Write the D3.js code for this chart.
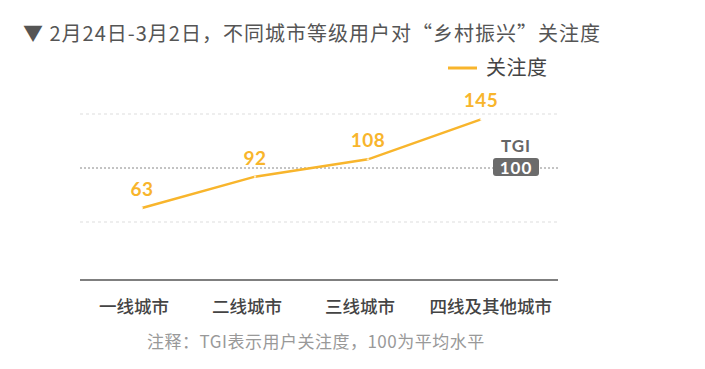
<!DOCTYPE html>
<html><head><meta charset="utf-8">
<script src="https://cdn.jsdelivr.net/npm/d3@7"></script>
<style>
html,body{margin:0;padding:0;background:#fff;}
svg{display:block;font-family:"Noto Sans CJK SC","Noto Sans",sans-serif;}
</style></head>
<body>
<svg id="c" width="705" height="369"></svg>
<script>
const categories = ["一线城市", "二线城市", "三线城市", "四线及其他城市"];
const attention = [63, 92, 108, 145];
const gridValues = [50, 150];
const baseline = 100;
const title = "▼ 2月24日-3月2日，不同城市等级用户对“乡村振兴”关注度";
const seriesName = "关注度";
const note = "注释：TGI表示用户关注度，100为平均水平";

const svg = d3.select("#c");
const orange = "#F8B52C";
const x = d3.scalePoint().domain(categories).range([142, 481]);
const y = d3.scaleLinear().domain([50, 150]).range([222, 114]);
const axisY = 280, left = 80, right = 558;

// title
svg.append("text").attr("x", 23).attr("y", 41)
  .attr("font-size", 20).attr("letter-spacing", 1).attr("fill", "#555").text(title);

// legend
svg.append("line").attr("x1", 448).attr("x2", 477).attr("y1", 68).attr("y2", 68)
  .attr("stroke", orange).attr("stroke-width", 3);
svg.append("text").attr("x", 486).attr("y", 75).attr("font-size", 20).attr("letter-spacing", 0.5)
  .attr("fill", "#444").text(seriesName);

// grid
svg.selectAll(".grid").data(gridValues).enter().append("line")
  .attr("x1", left).attr("x2", right)
  .attr("y1", d => y(d)).attr("y2", d => y(d))
  .attr("stroke", "#ddd").attr("stroke-dasharray", "3,3").attr("stroke-width", 1);

// baseline 100
svg.append("line").attr("x1", left).attr("x2", right)
  .attr("y1", y(baseline)).attr("y2", y(baseline))
  .attr("stroke", "#888").attr("stroke-dasharray", "2,2").attr("stroke-width", 1);

// axis line
svg.append("line").attr("x1", left).attr("x2", right).attr("y1", axisY).attr("y2", axisY)
  .attr("stroke", "#555").attr("stroke-width", 1.5);

// TGI badge
const bx = 516;
svg.append("text").attr("x", bx).attr("y", 152).attr("text-anchor", "middle")
  .attr("font-size", 17).attr("letter-spacing", 1).attr("font-family", "Lato, 'Noto Sans', sans-serif").attr("font-weight", 700)
  .attr("fill", "#666").text("TGI");
svg.append("rect").attr("x", bx - 23).attr("y", y(baseline) - 10).attr("width", 46).attr("height", 18)
  .attr("rx", 3).attr("fill", "#6b6b6b");
svg.append("text").attr("x", bx).attr("y", y(baseline) + 6).attr("text-anchor", "middle")
  .attr("font-size", 17).attr("letter-spacing", 1).attr("font-family", "Lato, 'Noto Sans', sans-serif").attr("font-weight", 700)
  .attr("fill", "#fff").text(String(baseline));

// line
const data = categories.map((c, i) => ({c, v: attention[i]}));
svg.append("path").datum(data)
  .attr("d", d3.line().x(d => x(d.c)).y(d => y(d.v)))
  .attr("fill", "none").attr("stroke", orange).attr("stroke-width", 2.5);
svg.selectAll(".pt").data(data).enter().append("circle")
  .attr("cx", d => x(d.c)).attr("cy", d => y(d.v)).attr("r", 1.2).attr("fill", "#fff").attr("opacity", 0.7);

svg.selectAll(".lbl").data(data).enter().append("text")
  .attr("x", d => x(d.c)).attr("y", d => y(d.v) - 12)
  .attr("text-anchor", "middle").attr("font-size", 19).attr("font-weight", 700)
  .attr("letter-spacing", 0.5)
  .attr("font-family", "Lato, 'Noto Sans', sans-serif")
  .attr("fill", orange).text(d => d.v);

// category labels
svg.selectAll(".cat").data(categories).enter().append("text")
  .attr("y", 313).attr("font-size", 17.5).attr("font-weight", 500)
  .attr("fill", "#444").attr("text-anchor", "middle").text(d => d)
  .each(function(d, i) {
    const w = this.getComputedTextLength();
    let cx = x(d) - 8;
    if (i === categories.length - 1) cx = right - 6 - w / 2;
    d3.select(this).attr("x", cx);
  });

// note
svg.append("text").attr("x", 147).attr("y", 348).attr("font-size", 17).attr("letter-spacing", 0.5)
  .attr("fill", "#999").text(note);
</script>
</body></html>
